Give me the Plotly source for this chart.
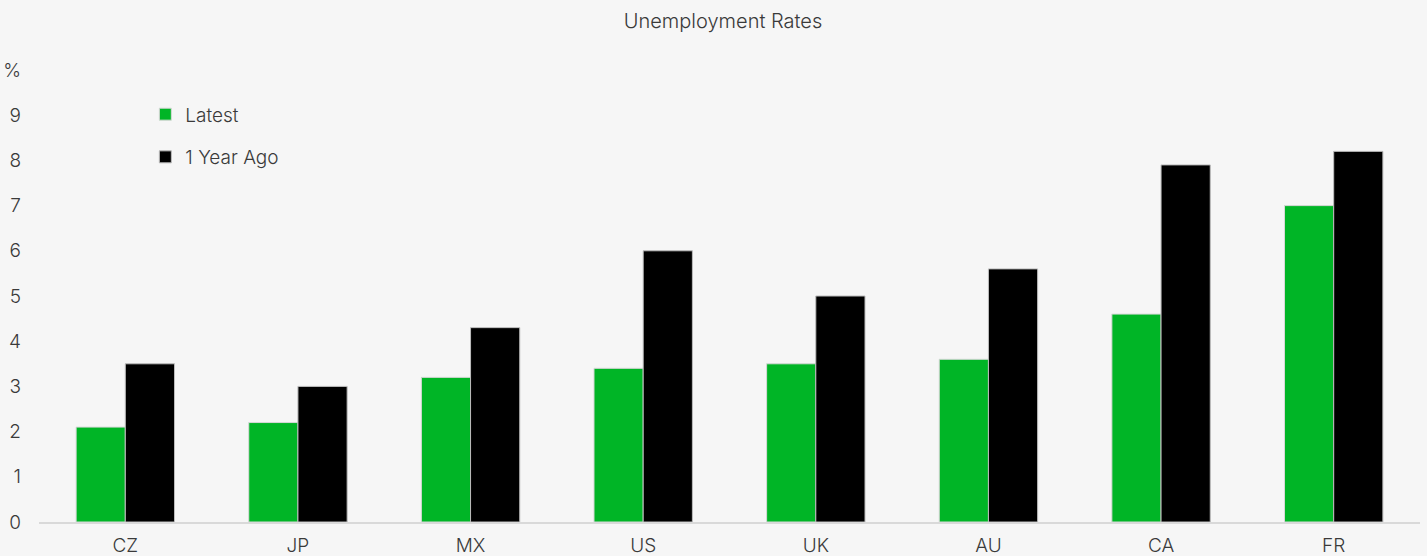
import plotly.graph_objects as go

categories = ["CZ", "JP", "MX", "US", "UK", "AU", "CA", "FR"]
latest = [2.1, 2.2, 3.2, 3.4, 3.5, 3.6, 4.6, 7.0]
year_ago = [3.5, 3.0, 4.3, 6.0, 5.0, 5.6, 7.9, 8.2]
tick_vals = [0, 1, 2, 3, 4, 5, 6, 7, 8, 9, 10]
tick_text = ["0", "1", "2", "3", "4", "5", "6", "7", "8", "9", "%"]

font_family = "Inter, Lato, sans-serif"
text_color = "#3a3a3a"

fig = go.Figure()
fig.add_trace(go.Bar(
    x=categories, y=latest, name="Latest", legendgroup="a",
    marker=dict(color="#00b526", line=dict(color="#d8d8d8", width=1)),
))
fig.add_trace(go.Bar(
    x=categories, y=year_ago, name="1 Year Ago", legendgroup="b",
    marker=dict(color="#000000", line=dict(color="#bdbdbd", width=1)),
))

fig.update_layout(
    width=1427, height=556,
    paper_bgcolor="#f6f6f6", plot_bgcolor="#f6f6f6",
    font=dict(family=font_family, size=19, color=text_color, weight=300),
    title=dict(text="Unemployment Rates", xref="container", x=0.5067, xanchor="center",
               y=0.975, yanchor="top",
               font=dict(size=20, color=text_color, weight=300)),
    margin=dict(l=39, r=7, t=70, b=34),
    barmode="group", bargap=0.43, bargroupgap=0,
    showlegend=True,
    legend=dict(x=0.077, y=0.944, xanchor="left", yanchor="top",
                bgcolor="rgba(0,0,0,0)", font=dict(size=19, color=text_color, weight=300),
                traceorder="grouped", tracegroupgap=15, itemwidth=30),
    xaxis=dict(showgrid=False, showline=True, linecolor="#d9d9d9", linewidth=2,
               ticks="", ticklabelstandoff=5, automargin=False,
               tickfont=dict(size=19, color=text_color, weight=300)),
    yaxis=dict(range=[0, 10], tickvals=tick_vals, ticktext=tick_text,
               showgrid=False, zeroline=False, showline=False, ticks="",
               automargin=False,
               ticklabelstandoff=17, tickfont=dict(size=19, color=text_color, weight=300)),
)

fig.write_html(
    "out.html",
    config={"displayModeBar": False},
    post_script="document.body.style.margin='0';document.body.style.background='#f6f6f6';",
)
